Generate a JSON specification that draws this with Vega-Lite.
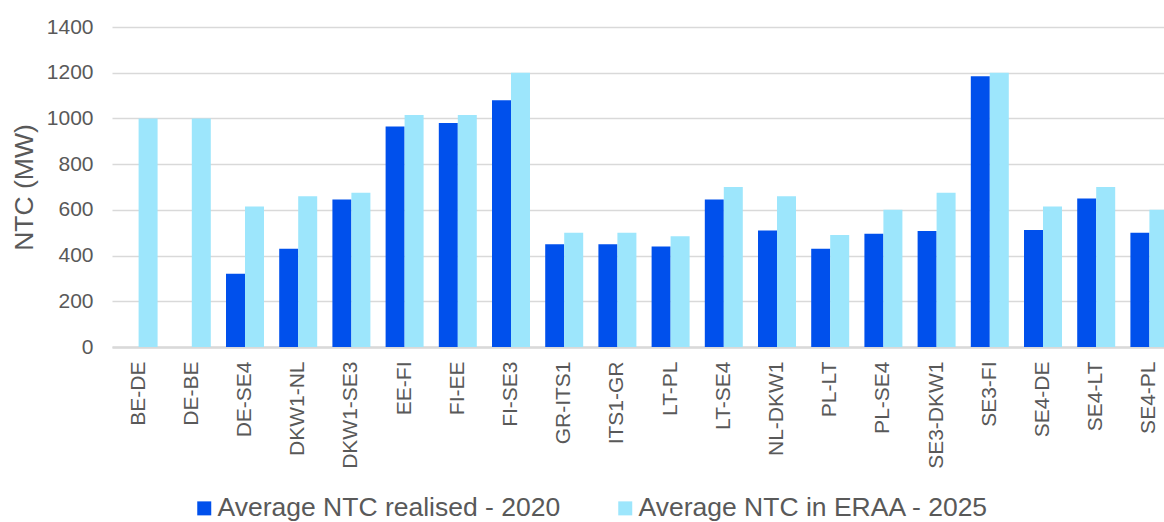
{
  "$schema": "https://vega.github.io/schema/vega-lite/v6.json",
  "autosize": {"type": "none"},
  "padding": {"left": 112, "top": 27, "right": 0, "bottom": 175},
  "width": 1064,
  "height": 320,
  "background": "white",
  "config": {
    "font": "Liberation Sans",
    "view": {"stroke": null},
    "axis": {"labelColor": "#595959", "titleColor": "#595959", "labelFont": "Liberation Sans", "titleFont": "Liberation Sans"},
    "legend": {"labelFont": "Liberation Sans"}
  },
  "data": {
    "values": [
      {"link": "BE-DE", "series": "Average NTC realised - 2020", "ntc": 0},
      {"link": "BE-DE", "series": "Average NTC in ERAA - 2025", "ntc": 1000},
      {"link": "DE-BE", "series": "Average NTC realised - 2020", "ntc": 0},
      {"link": "DE-BE", "series": "Average NTC in ERAA - 2025", "ntc": 1000},
      {"link": "DE-SE4", "series": "Average NTC realised - 2020", "ntc": 320},
      {"link": "DE-SE4", "series": "Average NTC in ERAA - 2025", "ntc": 615},
      {"link": "DKW1-NL", "series": "Average NTC realised - 2020", "ntc": 430},
      {"link": "DKW1-NL", "series": "Average NTC in ERAA - 2025", "ntc": 660},
      {"link": "DKW1-SE3", "series": "Average NTC realised - 2020", "ntc": 645},
      {"link": "DKW1-SE3", "series": "Average NTC in ERAA - 2025", "ntc": 675},
      {"link": "EE-FI", "series": "Average NTC realised - 2020", "ntc": 965},
      {"link": "EE-FI", "series": "Average NTC in ERAA - 2025", "ntc": 1015},
      {"link": "FI-EE", "series": "Average NTC realised - 2020", "ntc": 980},
      {"link": "FI-EE", "series": "Average NTC in ERAA - 2025", "ntc": 1015},
      {"link": "FI-SE3", "series": "Average NTC realised - 2020", "ntc": 1080},
      {"link": "FI-SE3", "series": "Average NTC in ERAA - 2025", "ntc": 1200},
      {"link": "GR-ITS1", "series": "Average NTC realised - 2020", "ntc": 450},
      {"link": "GR-ITS1", "series": "Average NTC in ERAA - 2025", "ntc": 500},
      {"link": "ITS1-GR", "series": "Average NTC realised - 2020", "ntc": 450},
      {"link": "ITS1-GR", "series": "Average NTC in ERAA - 2025", "ntc": 500},
      {"link": "LT-PL", "series": "Average NTC realised - 2020", "ntc": 440},
      {"link": "LT-PL", "series": "Average NTC in ERAA - 2025", "ntc": 485},
      {"link": "LT-SE4", "series": "Average NTC realised - 2020", "ntc": 645},
      {"link": "LT-SE4", "series": "Average NTC in ERAA - 2025", "ntc": 700},
      {"link": "NL-DKW1", "series": "Average NTC realised - 2020", "ntc": 510},
      {"link": "NL-DKW1", "series": "Average NTC in ERAA - 2025", "ntc": 660},
      {"link": "PL-LT", "series": "Average NTC realised - 2020", "ntc": 430},
      {"link": "PL-LT", "series": "Average NTC in ERAA - 2025", "ntc": 490},
      {"link": "PL-SE4", "series": "Average NTC realised - 2020", "ntc": 495},
      {"link": "PL-SE4", "series": "Average NTC in ERAA - 2025", "ntc": 600},
      {"link": "SE3-DKW1", "series": "Average NTC realised - 2020", "ntc": 508},
      {"link": "SE3-DKW1", "series": "Average NTC in ERAA - 2025", "ntc": 675},
      {"link": "SE3-FI", "series": "Average NTC realised - 2020", "ntc": 1185},
      {"link": "SE3-FI", "series": "Average NTC in ERAA - 2025", "ntc": 1200},
      {"link": "SE4-DE", "series": "Average NTC realised - 2020", "ntc": 512},
      {"link": "SE4-DE", "series": "Average NTC in ERAA - 2025", "ntc": 615},
      {"link": "SE4-LT", "series": "Average NTC realised - 2020", "ntc": 650},
      {"link": "SE4-LT", "series": "Average NTC in ERAA - 2025", "ntc": 700},
      {"link": "SE4-PL", "series": "Average NTC realised - 2020", "ntc": 500},
      {"link": "SE4-PL", "series": "Average NTC in ERAA - 2025", "ntc": 600}
    ]
  },
  "mark": {"type": "bar", "clip": false},
  "encoding": {
    "x": {
      "field": "link",
      "type": "nominal",
      "sort": null,
      "scale": {"paddingInner": 0.286, "paddingOuter": 0.143},
      "axis": {
        "title": null,
        "labelAngle": -90,
        "labelFontSize": 21,
        "labelPadding": 14,
        "ticks": false,
        "domainColor": "#d9d9d9",
        "domainWidth": 2.5,
        "labelAlign": "right",
        "labelBaseline": "middle"
      }
    },
    "xOffset": {
      "field": "series",
      "type": "nominal",
      "sort": ["Average NTC realised - 2020", "Average NTC in ERAA - 2025"]
    },
    "y": {
      "field": "ntc",
      "type": "quantitative",
      "scale": {"domain": [0, 1400], "nice": false},
      "axis": {
        "title": "NTC (MW)",
        "titleFontSize": 26.5,
        "titleFontWeight": "normal",
        "titlePadding": 8,
        "values": [0, 200, 400, 600, 800, 1000, 1200, 1400],
        "format": "d",
        "labelFontSize": 21,
        "labelPadding": 19,
        "ticks": false,
        "domain": false,
        "gridColor": "#d9d9d9",
        "gridWidth": 1.5
      }
    },
    "color": {
      "field": "series",
      "type": "nominal",
      "sort": ["Average NTC realised - 2020", "Average NTC in ERAA - 2025"],
      "scale": {
        "domain": ["Average NTC realised - 2020", "Average NTC in ERAA - 2025"],
        "range": ["#0050EC", "#9DE6FC"]
      },
      "legend": {
        "title": null,
        "orient": "none",
        "direction": "horizontal",
        "legendX": 79,
        "legendY": 468,
        "symbolType": "square",
        "symbolSize": 196,
        "symbolStrokeWidth": 0,
        "symbolOpacity": 1,
        "labelFontSize": 26.5,
        "labelColor": "#595959",
        "labelLimit": 600,
        "labelOffset": 0,
        "columnPadding": 51
      }
    }
  }
}
